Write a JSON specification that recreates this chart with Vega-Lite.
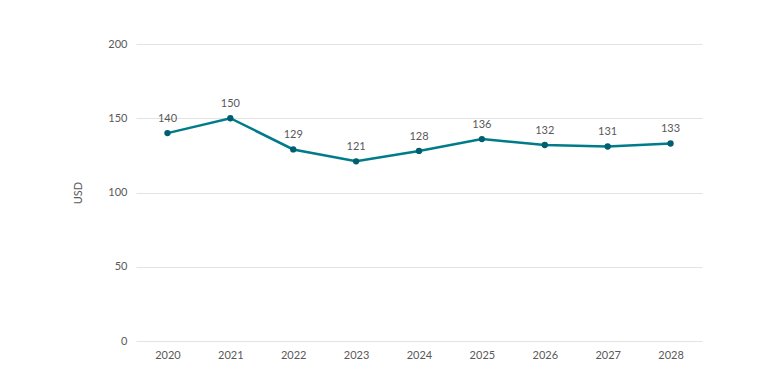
{
  "$schema": "https://vega.github.io/schema/vega-lite/v6.json",
  "width": 566,
  "height": 297,
  "autosize": {"type": "none"},
  "padding": {"left": 136, "top": 44, "right": 55, "bottom": 38},
  "background": "white",
  "config": {
    "view": {"stroke": null},
    "font": "Lato",
    "axis": {"labelFont": "Lato", "titleFont": "Lato", "labelColor": "#595959", "titleColor": "#595959", "labelFontSize": 11, "titleFontSize": 11, "titleFontWeight": "normal"}
  },
  "data": {
    "values": [
      {"year": "2020", "value": 140},
      {"year": "2021", "value": 150},
      {"year": "2022", "value": 129},
      {"year": "2023", "value": 121},
      {"year": "2024", "value": 128},
      {"year": "2025", "value": 136},
      {"year": "2026", "value": 132},
      {"year": "2027", "value": 131},
      {"year": "2028", "value": 133}
    ]
  },
  "encoding": {
    "x": {"field": "year", "type": "ordinal", "scale": {"type": "point", "padding": 0.5},
      "axis": {"title": null, "labelAngle": 0, "domain": false, "ticks": false, "labelPadding": 8, "grid": false}},
    "y": {"field": "value", "type": "quantitative", "scale": {"domain": [0, 200]},
      "axis": {"title": "USD", "values": [0, 50, 100, 150, 200], "domain": false, "ticks": false, "labelPadding": 9, "gridColor": "#e3e3e3", "titlePadding": 24}}
  },
  "layer": [
    {"mark": {"type": "line", "color": "#007b8a", "strokeWidth": 2.5}},
    {"mark": {"type": "point", "filled": true, "color": "#005f6e", "size": 40, "opacity": 1}},
    {"mark": {"type": "text", "dy": -14, "color": "#595959", "fontSize": 11, "font": "Lato"},
      "encoding": {"text": {"field": "value", "type": "quantitative"}}}
  ]
}
